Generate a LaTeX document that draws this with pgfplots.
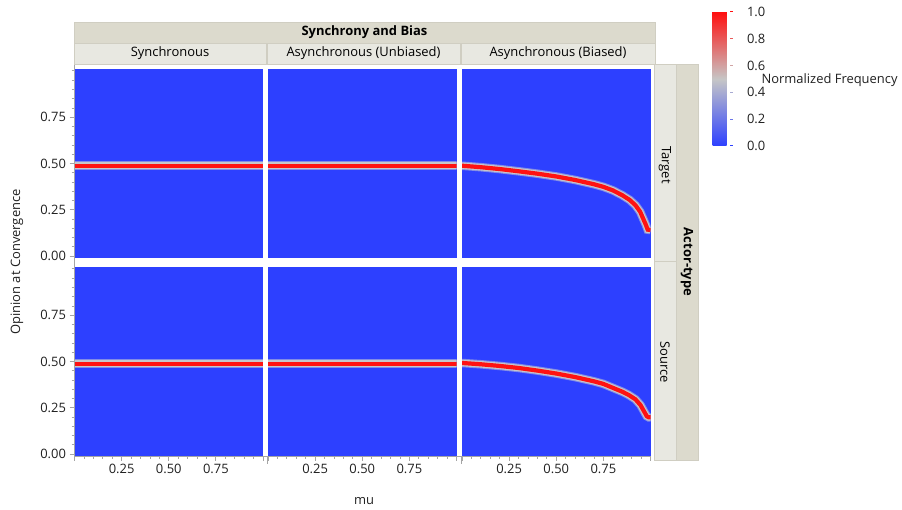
\documentclass[border=0pt]{standalone}
\usepackage{pgfplots}
\usepackage{pgfplotstable}
\pgfplotsset{compat=1.18}
\usepackage{fontspec}
\setmainfont{Open Sans}

\definecolor{hmblue}{RGB}{45,64,255}
\definecolor{hmred}{RGB}{255,18,18}
\definecolor{hmgray}{RGB}{198,198,204}
\definecolor{hmedge}{RGB}{130,140,230}
\definecolor{stripdark}{RGB}{220,218,205}
\definecolor{striplight}{RGB}{232,232,225}
\definecolor{stripline}{RGB}{208,206,194}
\definecolor{axgray}{RGB}{165,165,165}

% ridge of the opinion distribution (mu, opinion) for each facet
\pgfplotstableread{
mu op
0.00 0.488
1.00 0.488
}\syncTarget
\pgfplotstableread{
mu op
0.00 0.488
1.00 0.488
}\unbTarget
\pgfplotstableread{
mu op
0.00 0.488
0.10 0.480
0.20 0.470
0.30 0.458
0.40 0.445
0.50 0.430
0.60 0.411
0.70 0.388
0.75 0.374
0.80 0.355
0.85 0.329
0.89 0.303
0.92 0.275
0.945 0.240
0.96 0.205
0.975 0.170
0.985 0.143
1.00 0.141
}\biasTarget
\pgfplotstableread{
mu op
0.00 0.488
1.00 0.488
}\syncSource
\pgfplotstableread{
mu op
0.00 0.488
1.00 0.488
}\unbSource
\pgfplotstableread{
mu op
0.00 0.492
0.10 0.485
0.20 0.476
0.30 0.465
0.40 0.451
0.50 0.435
0.60 0.416
0.70 0.393
0.75 0.379
0.80 0.358
0.85 0.337
0.885 0.319
0.92 0.296
0.947 0.265
0.964 0.234
0.98 0.205
0.99 0.199
1.00 0.199
}\biasSource

\newcommand{\ridge}[1]{%
  \addplot[draw=hmedge, line width=8.5bp] table[x=mu,y=op] {#1};
  \addplot[draw=hmgray, line width=6.5bp] table[x=mu,y=op] {#1};
  \addplot[draw=hmred, line width=4.2bp] table[x=mu,y=op] {#1};
}

\pgfplotsset{
  panel/.style={
    scale only axis, width=188.5bp, height=189bp,
    xmin=0, xmax=1, ymin=-0.01, ymax=1.01,
    axis background/.style={fill=hmblue},
    axis line style={draw=none},
    xtick=\empty, ytick=\empty,
    tick align=outside,
    major tick length=5bp, minor tick length=3bp,
    tick style={draw=axgray, line width=0.8bp},
    ticklabel style={font=\fontsize{13}{15}\selectfont, text=black!88},
  },
  leftcol/.style={
    ytick pos=left,
    ytick={0,0.25,0.5,0.75},
    yticklabels={0.00,0.25,0.50,0.75},
    minor ytick={0,0.05,0.1,0.15,0.2,0.25,0.3,0.35,0.4,0.45,0.5,0.55,0.6,0.65,0.7,0.75,0.8,0.85,0.9,0.95,1},
  },
  bottomrow/.style={
    xtick pos=bottom,
    xtick={0,0.25,0.5,0.75,1},
    xticklabels={,0.25,0.50,0.75,},
    minor xtick={0,0.05,0.1,0.15,0.2,0.25,0.3,0.35,0.4,0.45,0.5,0.55,0.6,0.65,0.7,0.75,0.8,0.85,0.9,0.95,1},
  },
}

\begin{document}
\begin{tikzpicture}
\path (0,0) rectangle (902bp,510bp);

% facet strips
\filldraw[fill=stripdark, draw=stripline, line width=0.6bp] (74bp,488bp) rectangle (655bp,467bp);
\filldraw[fill=striplight, draw=stripline, line width=0.6bp] (74bp,467bp) rectangle (266.5bp,446bp);
\filldraw[fill=striplight, draw=stripline, line width=0.6bp] (267.5bp,467bp) rectangle (460bp,446bp);
\filldraw[fill=striplight, draw=stripline, line width=0.6bp] (461bp,467bp) rectangle (655bp,446bp);
\filldraw[fill=stripdark, draw=stripline, line width=0.6bp] (676bp,446bp) rectangle (698bp,50bp);
\filldraw[fill=striplight, draw=stripline, line width=0.6bp] (654bp,446bp) rectangle (676bp,248.5bp);
\filldraw[fill=striplight, draw=stripline, line width=0.6bp] (654bp,248.5bp) rectangle (676bp,50bp);

\node[font=\fontsize{13}{15}\selectfont\bfseries] at (364.5bp,477.5bp) {Synchrony and Bias};
\node[font=\fontsize{13}{15}\selectfont] at (170bp,456.5bp) {Synchronous};
\node[font=\fontsize{13}{15}\selectfont] at (363.5bp,456.5bp) {Asynchronous (Unbiased)};
\node[font=\fontsize{13}{15}\selectfont] at (558bp,456.5bp) {Asynchronous (Biased)};
\node[font=\fontsize{13}{15}\selectfont, rotate=-90] at (665bp,345bp) {Target};
\node[font=\fontsize{13}{15}\selectfont, rotate=-90] at (665bp,148bp) {Source};
\node[font=\fontsize{13}{15}\selectfont\bfseries, rotate=-90] at (687bp,248bp) {Actor-type};

% shared axis lines
\draw[axgray, line width=1bp] (74bp,445bp) -- (74bp,53bp) -- (651bp,53bp);
\draw[axgray, line width=0.8bp] (267.5bp,53bp) -- (267.5bp,46bp);
\draw[axgray, line width=0.8bp] (461bp,53bp) -- (461bp,46bp);

\coordinate (cbtl) at (704bp,498bp);

% top row: Target
\begin{axis}[panel, leftcol, at={(74.5bp,441bp)}, anchor=north west]
  \ridge{\syncTarget}
\end{axis}
\begin{axis}[panel, at={(268bp,441bp)}, anchor=north west]
  \ridge{\unbTarget}
\end{axis}
\begin{axis}[panel, at={(462bp,441bp)}, anchor=north west,
  colormap={hm}{rgb255=(45,64,255) rgb255=(198,198,198) rgb255=(255,16,16)},
  point meta min=0, point meta max=1,
  colorbar,
  colorbar style={
    at={(cbtl)}, anchor=north west,
    scale only axis, width=26bp, height=134bp,
    axis line style={draw=none},
    ytick={0,0.2,0.4,0.6,0.8,1},
    yticklabels={0.0,0.2,0.4,0.6,0.8,1.0},
    ytick pos=right, yticklabel pos=right,
    tick align=outside, major tick length=3bp,
    tick style={draw=none},
    yticklabel style={font=\fontsize{13}{15}\selectfont, text=black!88, xshift=2bp},
  }]
  \ridge{\biasTarget}
\end{axis}

% bottom row: Source
\begin{axis}[panel, leftcol, bottomrow, at={(74.5bp,243bp)}, anchor=north west]
  \ridge{\syncSource}
\end{axis}
\begin{axis}[panel, bottomrow, at={(268bp,243bp)}, anchor=north west]
  \ridge{\unbSource}
\end{axis}
\begin{axis}[panel, bottomrow, at={(462bp,243bp)}, anchor=north west]
  \ridge{\biasSource}
\end{axis}

% colour bar tick marks
\foreach \v/\c in {0/{rgb,255:red,45;green,64;blue,255},
                   0.2/{rgb,255:red,106;green,117;blue,232},
                   0.4/{rgb,255:red,167;green,170;blue,210},
                   0.6/{rgb,255:red,209;green,164;blue,164},
                   0.8/{rgb,255:red,232;green,90;blue,90},
                   1/{rgb,255:red,255;green,16;blue,16}}
  \draw[color=\c, line width=1bp] (730bp,364bp+134bp*\v) -- (733bp,364bp+134bp*\v);

\node[font=\fontsize{13}{15}\selectfont, anchor=west, text=black!88] at (758bp,430bp) {Normalized Frequency};
\node[font=\fontsize{13}{15}\selectfont, rotate=90, text=black!88] at (17bp,248bp) {Opinion at Convergence};
\node[font=\fontsize{13}{15}\selectfont, text=black!88] at (364bp,9bp) {mu};
\end{tikzpicture}
\end{document}
